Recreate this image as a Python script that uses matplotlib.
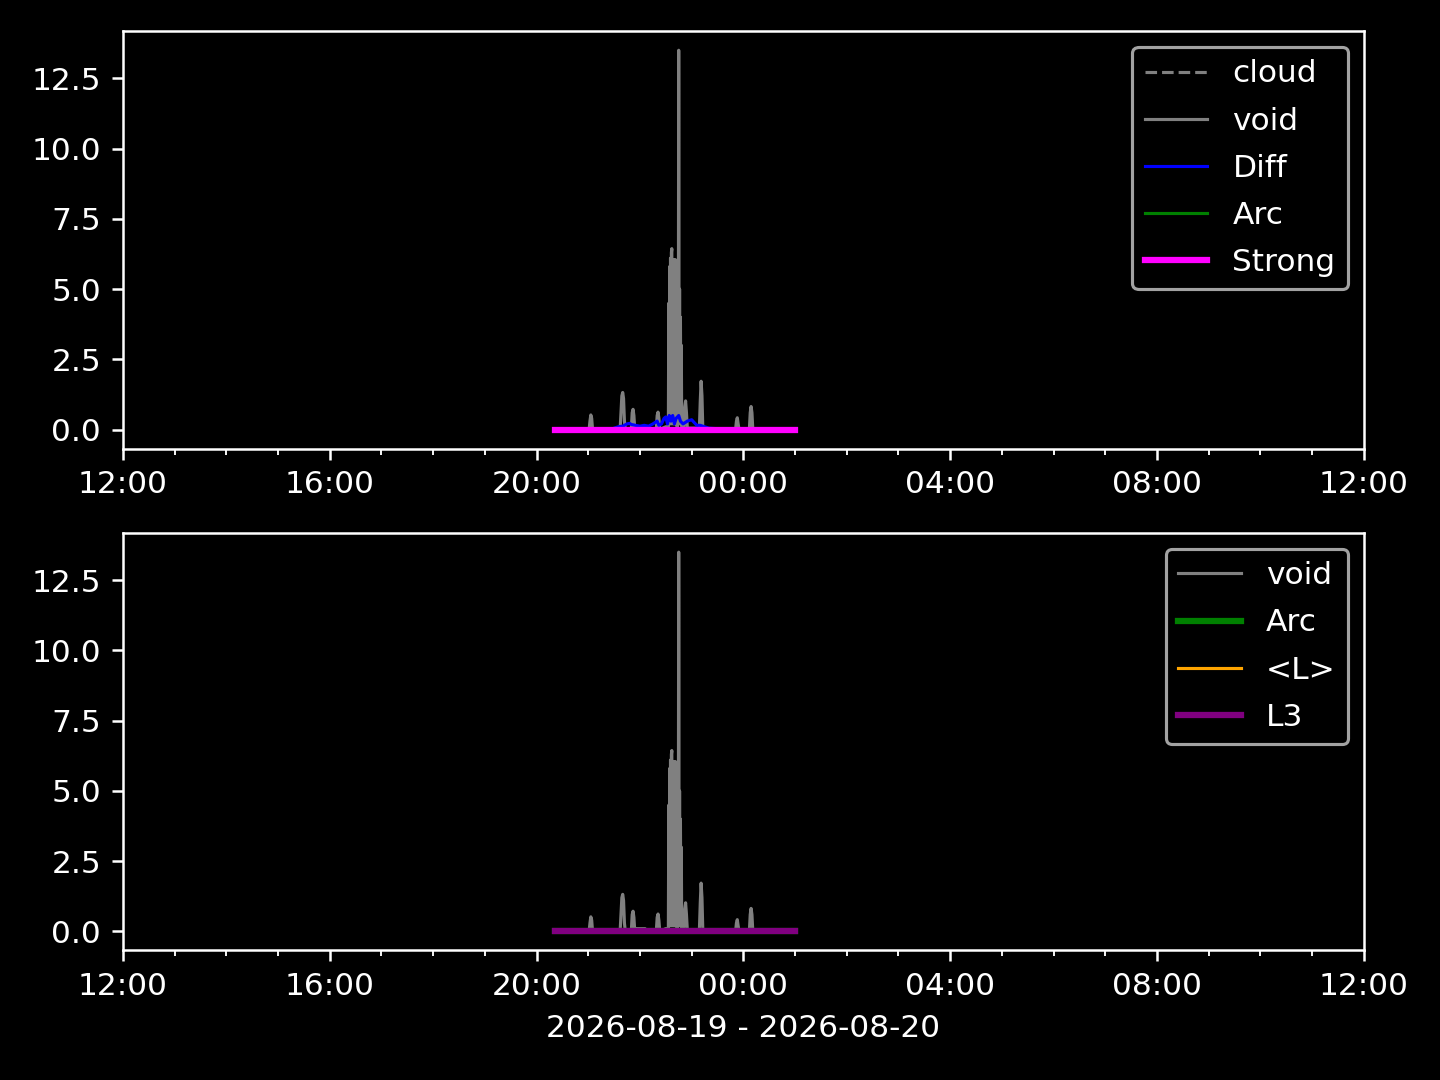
import datetime as dt
import matplotlib
matplotlib.use("Agg")
import matplotlib.pyplot as plt
import matplotlib.dates as mdates

plt.style.use("dark_background")

day0 = dt.datetime(2026, 8, 19)

def to_dt(s):
    parts = list(map(int, s.split(":")))
    h, m = parts[0], parts[1]
    sec = parts[2] if len(parts) > 2 else 0
    d = day0 if h >= 12 else day0 + dt.timedelta(days=1)
    return d.replace(hour=h, minute=m, second=sec)

# void (gray) series
void_t = ["20:22", "21:01", "21:02", "21:03", "21:04", "21:05",
          "21:37", "21:38", "21:39", "21:40", "21:41", "21:42", "21:43",
          "21:50", "21:51", "21:52", "21:53", "21:54",
          "21:55", "22:06", "22:07",
          "22:19", "22:20", "22:21", "22:22", "22:23",
          "22:30", "22:33:00",
          "22:33:30", "22:34:00", "22:34:30", "22:35:00", "22:35:30", "22:36:00",
          "22:36:30", "22:37:00", "22:37:30", "22:38:00", "22:38:30", "22:39:00",
          "22:39:30", "22:40:00", "22:40:30", "22:41:00", "22:41:30", "22:42:00",
          "22:42:30", "22:43:00", "22:43:30", "22:44:00", "22:44:30", "22:45:00",
          "22:45:30", "22:46:00", "22:46:30", "22:47:00", "22:47:30", "22:48:00",
          "22:48:30",
          "22:51", "22:52", "22:53", "22:54", "22:55",
          "23:09", "23:10", "23:11", "23:12", "23:13",
          "23:51", "23:52", "23:53", "23:54", "23:55",
          "00:07", "00:08", "00:09", "00:10", "00:11", "01:00"]
void_v = [0.0, 0.0, 0.3, 0.52, 0.4, 0.0,
          0.0, 0.6, 1.2, 1.32, 1.1, 0.3, 0.0,
          0.0, 0.6, 0.72, 0.5, 0.0,
          0.1, 0.1, 0.0,
          0.0, 0.5, 0.62, 0.4, 0.0,
          0.1, 0.1,
          4.5, 0.2, 5.8, 0.3, 6.1, 0.2,
          6.3, 6.44, 0.3, 6.05, 0.2, 6.05,
          0.4, 6.0, 0.2, 6.05, 6.0, 0.3,
          5.9, 0.1, 0.1, 4.0, 0.2, 13.5,
          0.3, 5.0, 0.2, 4.0, 0.3, 3.0,
          0.0,
          0.05, 0.8, 1.02, 0.6, 0.05,
          0.05, 1.0, 1.72, 1.2, 0.0,
          0.0, 0.3, 0.42, 0.2, 0.0,
          0.0, 0.6, 0.82, 0.6, 0.0, 0.0]

# Diff (blue)
diff_t = ["21:27", "21:30", "21:35", "21:40", "21:45", "21:48", "21:50",
          "21:55", "22:00", "22:05", "22:10", "22:15", "22:20", "22:22",
          "22:25", "22:28", "22:30", "22:32", "22:34", "22:36", "22:38",
          "22:40", "22:42", "22:45", "22:47", "22:50", "22:55", "23:00",
          "23:03", "23:06", "23:10", "23:15", "23:20", "23:30", "23:47"]
diff_v = [0.0, 0.05, 0.1, 0.12, 0.2, 0.22, 0.18,
          0.15, 0.12, 0.15, 0.12, 0.2, 0.3, 0.15,
          0.2, 0.4, 0.45, 0.2, 0.5, 0.3, 0.5,
          0.2, 0.4, 0.5, 0.3, 0.2, 0.3, 0.35,
          0.25, 0.15, 0.15, 0.1, 0.05, 0.03, 0.02]

# flat series at zero
flat_t = ["20:22", "01:00"]
cloud_v = [0.0, 0.0]
arc_v = [0.0, 0.0]
strong_v = [0.0, 0.0]
meanl_v = [0.0, 0.0]
l3_v = [0.0, 0.0]

vt = [to_dt(s) for s in void_t]
dtm = [to_dt(s) for s in diff_t]
ft = [to_dt(s) for s in flat_t]

fig, (ax1, ax2) = plt.subplots(2, 1, figsize=(6.4, 4.8), dpi=225)
fig.subplots_adjust(left=0.0854, right=0.947, top=0.971, bottom=0.12, hspace=0.203)

ax1.plot(ft, cloud_v, color="gray", linestyle="--", linewidth=1, label="cloud")
ax1.plot(vt, void_v, color="gray", linewidth=1, label="void")
ax1.plot(dtm, diff_v, color="blue", linewidth=1, label="Diff")
ax1.plot(ft, arc_v, color="green", linewidth=1, label="Arc")
ax1.plot(ft, strong_v, color="magenta", linewidth=2, label="Strong")
ax1.legend(loc="upper right", labelspacing=0.58)

ax2.plot(vt, void_v, color="gray", linewidth=1, label="void")
ax2.plot(ft, arc_v, color="green", linewidth=2, label="Arc")
ax2.plot(ft, meanl_v, color="orange", linewidth=1, label="<L>")
ax2.plot(ft, l3_v, color="purple", linewidth=2, label="L3")
ax2.legend(loc="upper right", labelspacing=0.58)
ax2.set_xlabel("2026-08-19 - 2026-08-20")

for ax in (ax1, ax2):
    ax.set_xlim(day0.replace(hour=12), day0 + dt.timedelta(days=1, hours=12))
    ax.xaxis.set_major_locator(mdates.HourLocator(byhour=range(0, 24, 4)))
    ax.xaxis.set_minor_locator(mdates.HourLocator())
    ax.xaxis.set_major_formatter(mdates.DateFormatter("%H:%M"))

fig.savefig("out.png")
